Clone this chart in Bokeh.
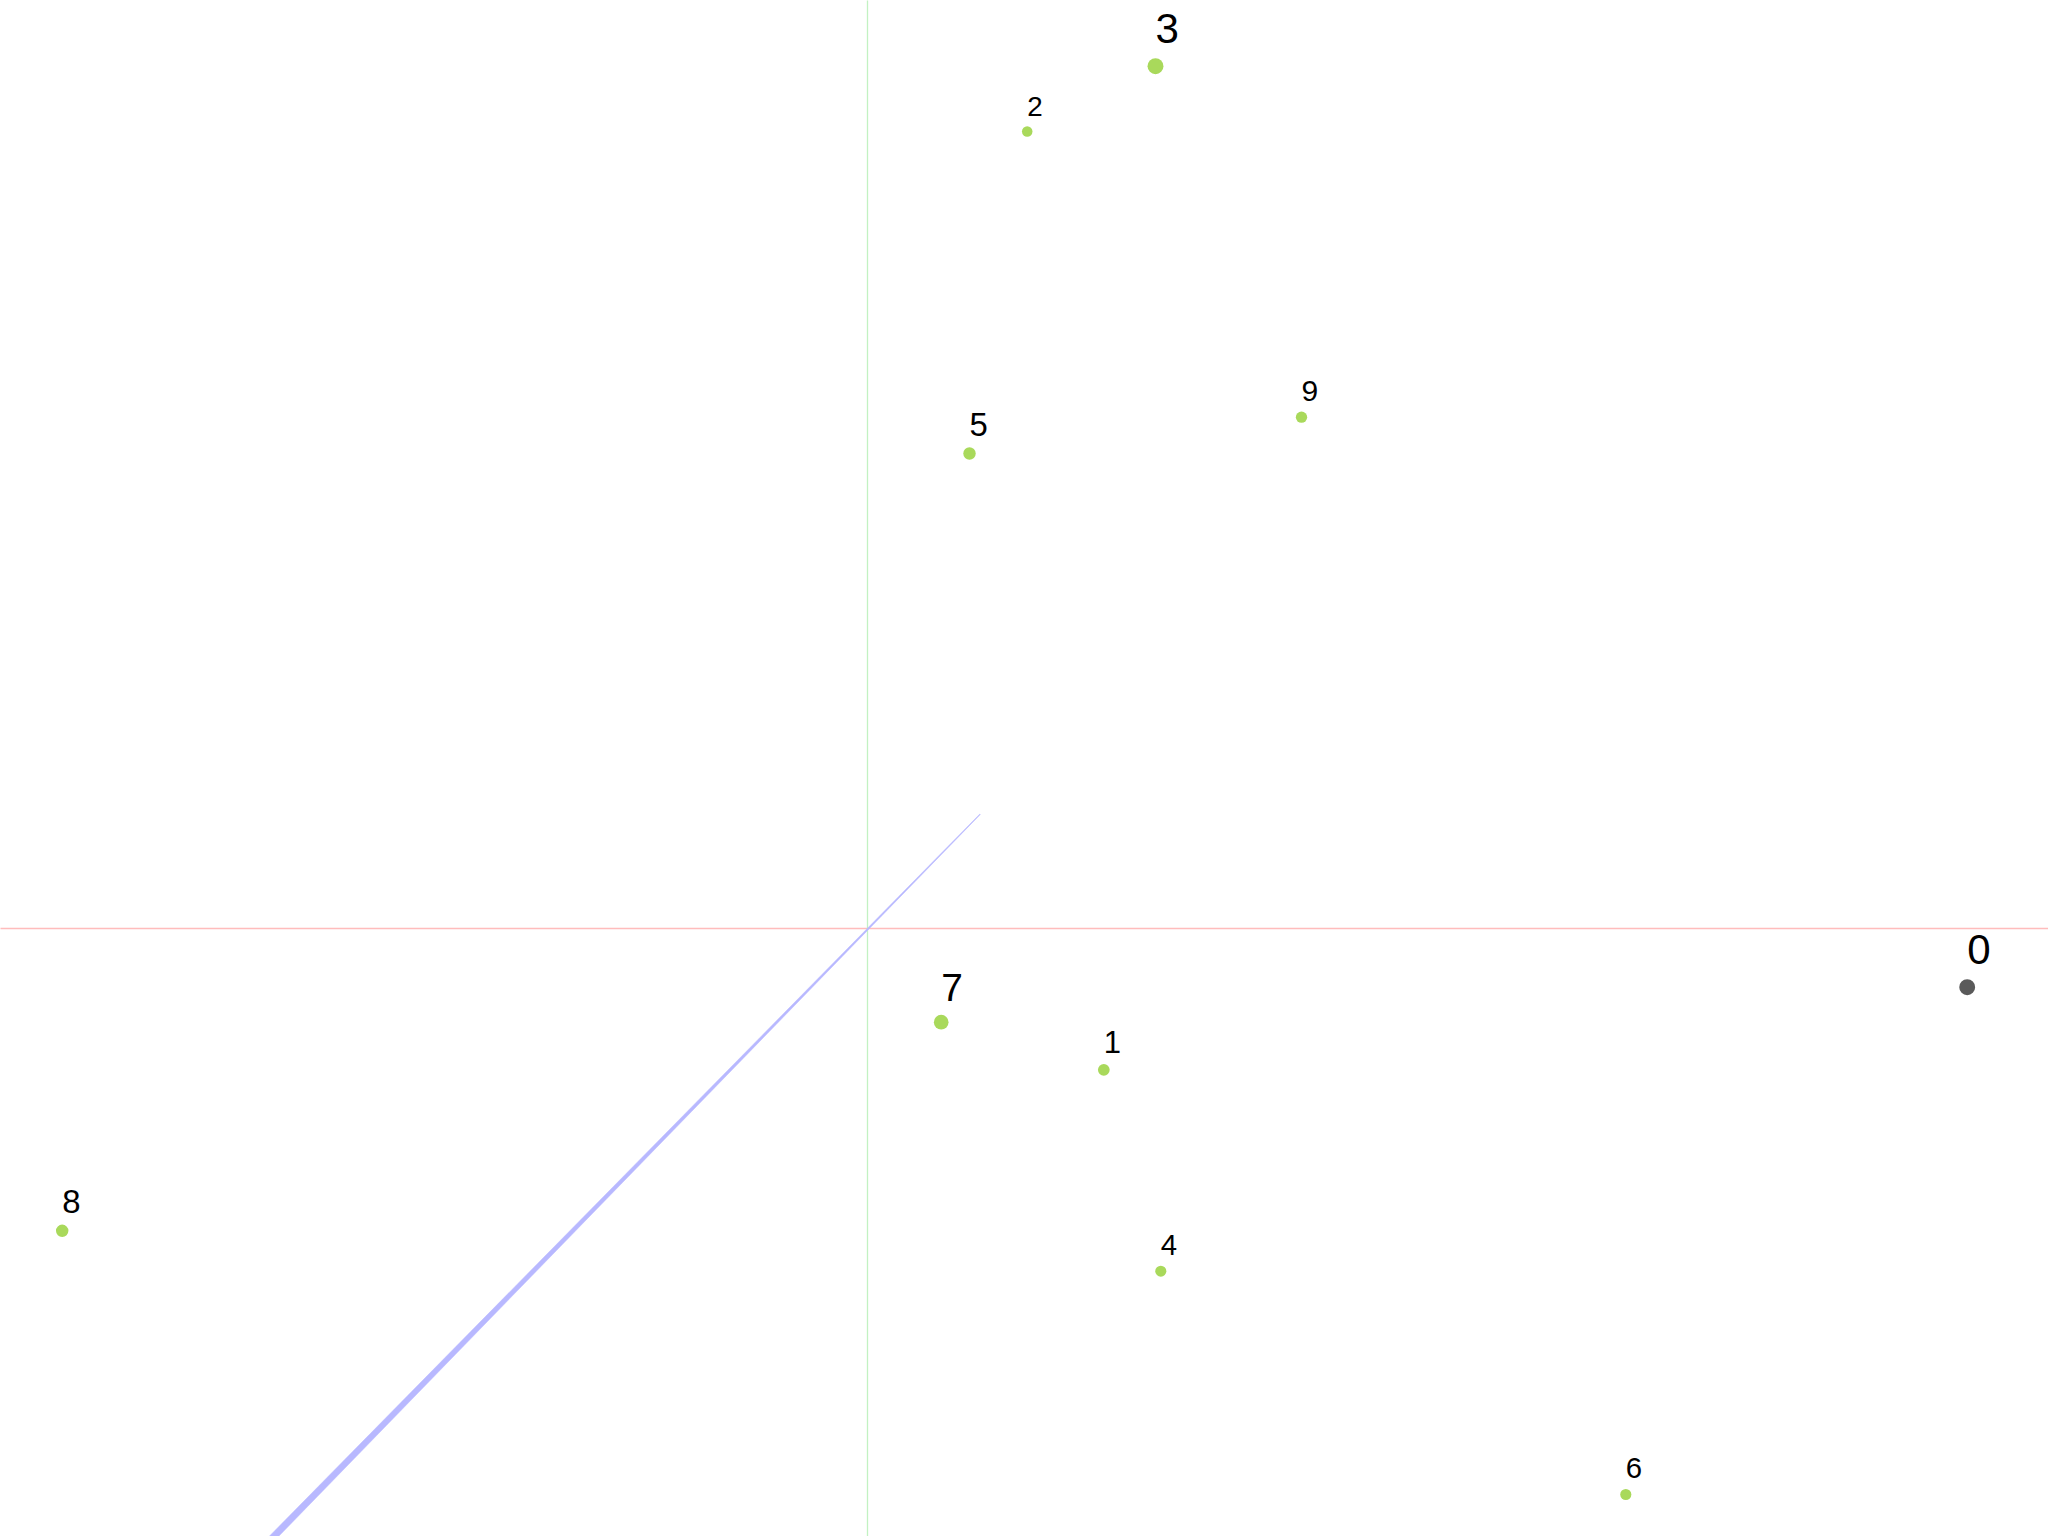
from bokeh.plotting import figure
from bokeh.models import ColumnDataSource, Range1d
from bokeh.core.properties import value
from bokeh.embed import file_html
from bokeh.resources import INLINE

# projected positions of the labelled points (pixels from the axes origin, y up)
labels = ["0", "1", "2", "3", "4", "5", "6", "7", "8", "9"]
proj_x = [1099.7, 236.3, 159.7, 288.0, 293.3, 102.0, 758.3, 73.7, -805.3, 434.0]
proj_y = [-58.7, -141.3, 797.0, 862.3, -342.7, 475.0, -566.0, -93.7, -302.3, 511.3]
# perspective scale of each point (nearer = larger)
depth_scale = [1.56, 1.15, 1.03, 1.56, 1.09, 1.22, 1.09, 1.44, 1.22, 1.11]
point_group = ["query", "other", "other", "other", "other",
               "other", "other", "other", "other", "other"]

# axis ends (projected)
axis_x_ends = [-900.0, 1200.0]
axis_y_ends = [-650.0, 950.0]
axis_z_start = [112.6, 114.3]
axis_z_end = [-625.0, -640.0]

W, H = 2048, 1536
origin_px = (867, 928)

p = figure(width=W, height=H, output_backend="svg", toolbar_location=None,
           x_range=Range1d(-origin_px[0], W - origin_px[0]),
           y_range=Range1d(origin_px[1] - H, origin_px[1]),
           min_border=0, x_axis_location=None, y_axis_location=None)
p.grid.visible = False
p.outline_line_color = None
p.background_fill_color = "white"
p.border_fill_color = "white"

# x axis (red) and y axis (green)
p.line(x=axis_x_ends, y=[0, 0], line_color="#ffbcbc", line_width=1.3)
p.line(x=[0, 0], y=axis_y_ends, line_color="#c2f2c2", line_width=1.3)

# z axis (blue), drawn as a tapering band for the perspective
zx0, zy0 = axis_z_start
zx1, zy1 = axis_z_end
length = ((zx1 - zx0) ** 2 + (zy1 - zy0) ** 2) ** 0.5
nx, ny = -(zy1 - zy0) / length, (zx1 - zx0) / length
w0, w1 = 0.6, 7.0
p.patch(x=[zx0 + nx * w0 / 2, zx1 + nx * w1 / 2, zx1 - nx * w1 / 2, zx0 - nx * w0 / 2],
        y=[zy0 + ny * w0 / 2, zy1 + ny * w1 / 2, zy1 - ny * w1 / 2, zy0 - ny * w0 / 2],
        fill_color="#b8b8ff", line_color="#b8b8ff", line_width=0.5)

colors = {"query": "#5a5a5a", "other": "#a9d95b"}
source = ColumnDataSource(data=dict(
    x=proj_x, y=proj_y, label=labels,
    size=[10.2 * s for s in depth_scale],
    color=[colors[g] for g in point_group],
    font=[f"{27.0 * s:.1f}px" for s in depth_scale],
    ly=[y + 24.0 * s for y, s in zip(proj_y, depth_scale)],
))

p.scatter(x="x", y="y", size="size", fill_color="color", line_color=None, source=source)
p.text(x="x", y="ly", text="label", text_font_size="font",
       text_font=value("Liberation Sans"), text_color="black",
       text_align="left", text_baseline="alphabetic", source=source)

open("out.html", "w").write(file_html(p, INLINE))
